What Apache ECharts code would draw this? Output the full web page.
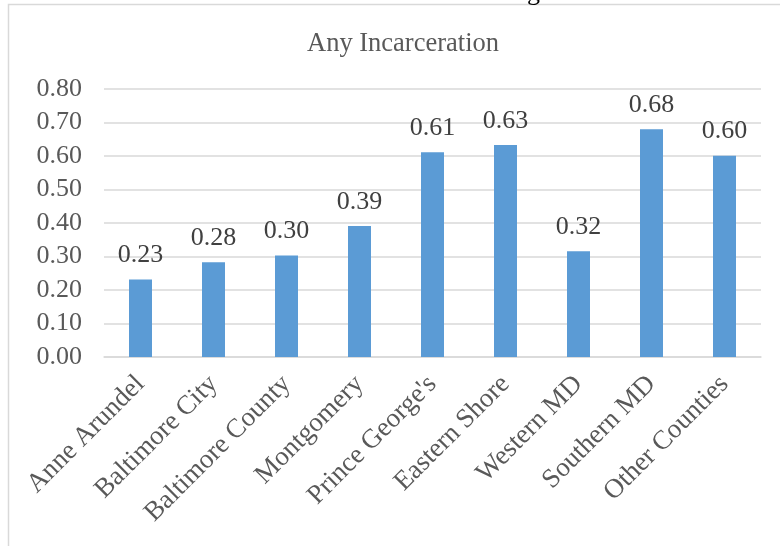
<!DOCTYPE html>
<html>
<head>
<meta charset="utf-8">
<script src="https://cdn.jsdelivr.net/npm/echarts@6/dist/echarts.min.js"></script>
<style>
  html, body { margin: 0; padding: 0; background: #fff; }
  #chart { width: 780px; height: 546px; }
</style>
</head>
<body>
<div id="chart"></div>
<script>
// 各地区的数据
const regions = ['Anne Arundel', 'Baltimore City', 'Baltimore County', 'Montgomery', "Prince George's",
  'Eastern Shore', 'Western MD', 'Southern MD', 'Other Counties']
const incarceration = [0.231, 0.283, 0.303, 0.391, 0.611, 0.633, 0.316, 0.680, 0.601]
const yTicks = [0, 0.1, 0.2, 0.3, 0.4, 0.5, 0.6, 0.7, 0.8]

const textColor = '#595959'
const serif = '"Liberation Serif", "Times New Roman", serif'

const chart = echarts.init(document.getElementById('chart'), null, { renderer: 'canvas' })
const option = {
  animation: false,
  backgroundColor: '#fff',
  title: {
    text: 'Any Incarceration',
    left: 398,
    top: 26,
    textAlign: 'center',
    textStyle: { fontFamily: serif, fontSize: 26.5, fontWeight: 'normal', color: textColor },
  },
  graphic: [
    // 图表外框
    {
      type: 'rect',
      shape: { x: 8.5, y: 4.5, width: 800, height: 600 },
      style: { fill: 'none', stroke: '#d9d9d9', lineWidth: 1.5 },
      silent: true,
    },
    // 上方被裁掉的标题残留
    {
      type: 'text',
      left: 527,
      top: -20,
      style: { text: 'g', font: '26px ' + serif, fill: '#000' },
      silent: true,
    },
  ],
  grid: { left: 104, right: 19, top: 89, bottom: 189 },
  xAxis: {
    type: 'category',
    data: regions,
    axisLine: { lineStyle: { color: '#d9d9d9', width: 1.5 } },
    axisTick: { show: false },
    axisLabel: {
      rotate: 45,
      interval: 0,
      margin: 23,
      fontFamily: serif,
      fontSize: 27,
      color: textColor,
    },
  },
  yAxis: {
    type: 'value',
    min: yTicks[0],
    max: yTicks[yTicks.length - 1],
    interval: 0.1,
    axisLine: { show: false },
    axisTick: { show: false },
    splitLine: { lineStyle: { color: '#d9d9d9', width: 1.5 } },
    axisLabel: {
      margin: 22,
      fontFamily: serif,
      fontSize: 26,
      color: textColor,
      formatter: (v) => v.toFixed(2),
    },
  },
  series: [
    {
      type: 'bar',
      data: incarceration,
      barWidth: 23,
      itemStyle: { color: '#5b9bd5' },
      label: {
        show: true,
        position: 'top',
        distance: 11,
        fontFamily: serif,
        fontSize: 26,
        color: '#404040',
        formatter: (p) => p.value.toFixed(2),
      },
    },
  ],
}
chart.setOption(option)
</script>
</body>
</html>
